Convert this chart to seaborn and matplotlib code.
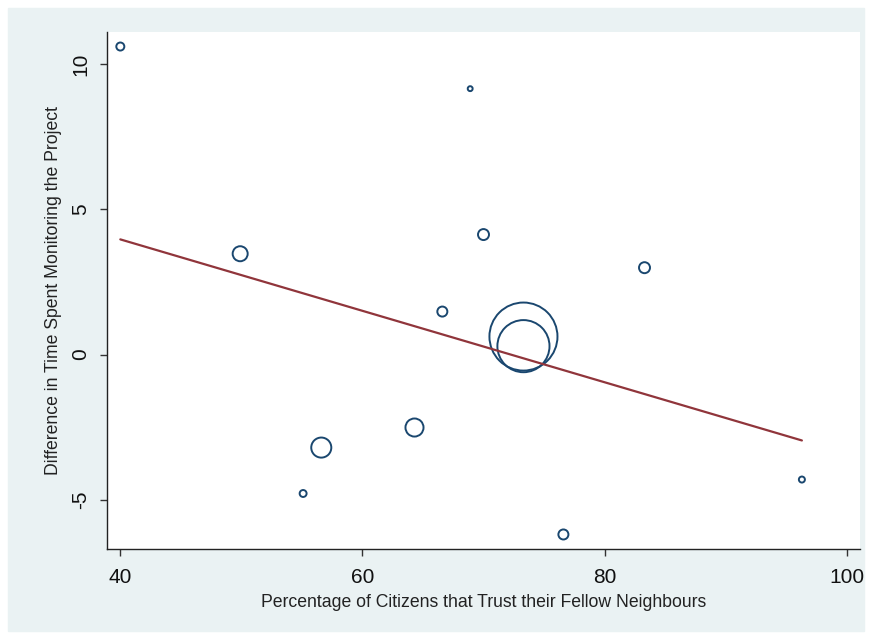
import numpy as np
import pandas as pd
import matplotlib.pyplot as plt
import seaborn as sns
from matplotlib.patches import Rectangle

# values
trust_pct = [40.0, 68.9, 49.9, 70.0, 83.3, 66.6, 73.3, 73.3, 64.3, 56.6, 55.1, 76.6, 96.3]
time_diff = [10.6, 9.15, 3.47, 4.13, 2.99, 1.48, 0.62, 0.29, -2.51, -3.20, -4.78, -6.19, -4.30]
weight = [16, 6, 56, 30, 30, 25, 1150, 675, 81, 100, 12, 25, 9]

# fitted line (linear fit shown in the chart)
fit_intercept = 8.88
fit_slope = -0.1229

x_ticks = [40, 60, 80, 100]
y_ticks = [-5, 0, 5, 10]

navy = "#1a476f"
maroon = "#90353b"
panel_bg = "#eaf2f3"

df = pd.DataFrame({"trust": trust_pct, "diff": time_diff, "w": weight})

sns.set_theme(style="white")
plt.rcParams["font.family"] = ["Liberation Sans", "DejaVu Sans"]

fig = plt.figure(figsize=(8.72, 6.39), dpi=100, facecolor="white")
fig.patches.append(Rectangle((8 / 872, 8 / 639), 856 / 872, 623 / 639,
                             transform=fig.transFigure, color=panel_bg, zorder=-1))
ax = fig.add_axes([107 / 872, 1 - 549 / 639, (860 - 107) / 872, (549 - 32) / 639])
ax.set_facecolor("white")

# marker area proportional to weight
wmax = max(weight)
sns.scatterplot(data=df, x="trust", y="diff", size="w", sizes=(0, 2400),
                size_norm=(0, wmax), legend=False, ax=ax,
                facecolors="none", edgecolor=navy, linewidth=1.4, zorder=2)
for coll in ax.collections:
    coll.set_facecolor("none")
    coll.set_edgecolor(navy)

fx = np.array([min(trust_pct), max(trust_pct)])
fit_df = pd.DataFrame({"x": fx, "y": fit_intercept + fit_slope * fx})
sns.lineplot(data=fit_df, x="x", y="y", color=maroon, linewidth=1.6, ax=ax, zorder=3)

ax.set_xlim(38.9, 101.1)
ax.set_ylim(-6.69, 11.1)
ax.set_xticks(x_ticks)
ax.set_yticks(y_ticks)
ax.set_yticklabels([str(t) for t in y_ticks], rotation=90, va="center")

for side in ["top", "right"]:
    ax.spines[side].set_visible(False)
for side in ["left", "bottom"]:
    ax.spines[side].set_color("#222222")
    ax.spines[side].set_linewidth(1.0)
ax.tick_params(axis="both", which="major", direction="out", length=5, width=1,
               color="#333333", labelsize=15, labelcolor="#111111",
               bottom=True, left=True)
ax.tick_params(axis="x", pad=9)
ax.tick_params(axis="y", pad=7)

ax.set_xlabel("Percentage of Citizens that Trust their Fellow Neighbours",
              fontsize=12.7, color="#222222", labelpad=5)
ax.set_ylabel("Difference in Time Spent Monitoring the Project",
              fontsize=12.7, color="#222222", labelpad=7)

fig.savefig("out.png", dpi=100, facecolor="white")
